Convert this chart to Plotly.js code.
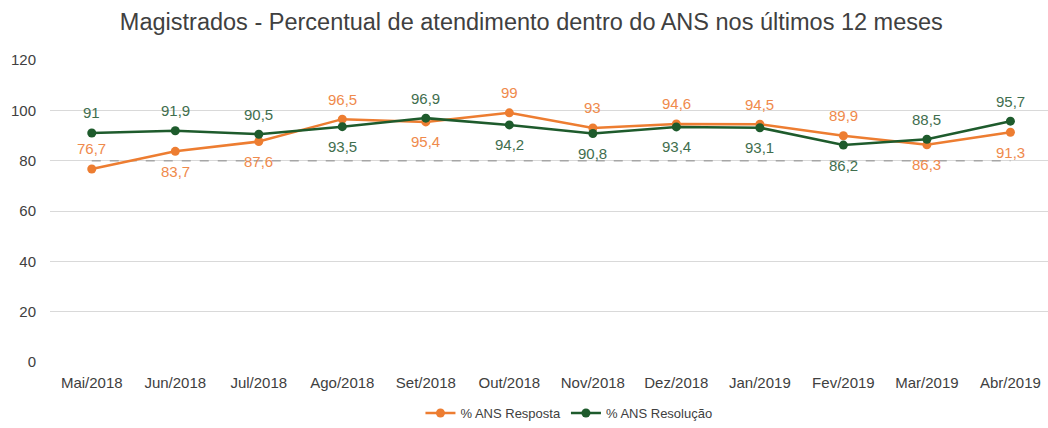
<!DOCTYPE html>
<html>
<head>
<meta charset="utf-8">
<script src="https://cdn.plot.ly/plotly-3.0.1.min.js"></script>
<style>html,body{margin:0;padding:0;background:#fff;}#chart{width:1048px;height:428px;}</style>
</head>
<body>
<div id="chart"></div>
<script>
const months = ['Mai/2018','Jun/2018','Jul/2018','Ago/2018','Set/2018','Out/2018','Nov/2018','Dez/2018','Jan/2019','Fev/2019','Mar/2019','Abr/2019'];
const resposta = [76.7, 83.7, 87.6, 96.5, 95.4, 99, 93, 94.6, 94.5, 89.9, 86.3, 91.3];
const resolucao = [91, 91.9, 90.5, 93.5, 96.9, 94.2, 90.8, 93.4, 93.1, 86.2, 88.5, 95.7];
const meta = [80, 80, 80, 80, 80, 80, 80, 80, 80, 80, 80, 80];
// label placement: 1 = above, -1 = below
const respostaPos = [1, -1, -1, 1, -1, 1, 1, 1, 1, 1, -1, -1];
const resolucaoPos = [1, 1, 1, -1, 1, -1, -1, -1, -1, -1, 1, 1];

const orange = '#ED7D31';
const green = '#1E5B2C';
const font = 'Liberation Sans, Arial, sans-serif';

function fmt(v){ return String(v).replace('.', ','); }

const annotations = [];
months.forEach((m, i) => {
  annotations.push({x: m, y: resposta[i], xref: 'x', yref: 'y', text: fmt(resposta[i]), showarrow: false,
    yshift: respostaPos[i] * 20, font: {family: font, size: 15, color: '#EF8A4C'}});
  annotations.push({x: m, y: resolucao[i], xref: 'x', yref: 'y', text: fmt(resolucao[i]), showarrow: false,
    yshift: resolucaoPos[i] * 20, font: {family: font, size: 15, color: '#3F6E4E'}});
});

const traces = [
  {x: months, y: meta, mode: 'lines', line: {color: '#A6A6A6', width: 1.5, dash: 'dash'}, showlegend: false, hoverinfo: 'skip'},
  {x: months, y: resposta, name: '% ANS Resposta', mode: 'lines+markers', line: {color: orange, width: 2.5}, marker: {color: orange, size: 9}},
  {x: months, y: resolucao, name: '% ANS Resolução', mode: 'lines+markers', line: {color: green, width: 2.5}, marker: {color: green, size: 9}}
];

const layout = {
  width: 1048, height: 428,
  margin: {l: 50, r: 0, t: 60, b: 66, autoexpand: false},
  paper_bgcolor: '#fff', plot_bgcolor: '#fff',
  font: {family: font, color: '#595959'},
  title: {text: 'Magistrados - Percentual de atendimento dentro do ANS nos últimos 12 meses',
    font: {family: font, size: 23.5, color: '#404040'}, x: 0.507, xanchor: 'center', y: 0.948, yanchor: 'middle'},
  xaxis: {type: 'category', range: [-0.5, 11.45], showgrid: false, zeroline: false, showline: false,
    ticks: '', ticklabelstandoff: 10, tickfont: {size: 15, color: '#404040'}},
  yaxis: {range: [0, 120], dtick: 20, showgrid: true, gridcolor: '#D9D9D9', gridwidth: 1, zeroline: false,
    showline: false, ticks: '', ticklabelstandoff: 13, tickfont: {size: 15, color: '#404040'}},
  showlegend: true,
  legend: {orientation: 'h', x: 0.52, xanchor: 'center', yref: 'container', y: 0.0, yanchor: 'bottom', font: {size: 13, color: '#404040'}},
  annotations: annotations
};

Plotly.newPlot('chart', traces, layout, {displayModeBar: false, staticPlot: true});
</script>
</body>
</html>
